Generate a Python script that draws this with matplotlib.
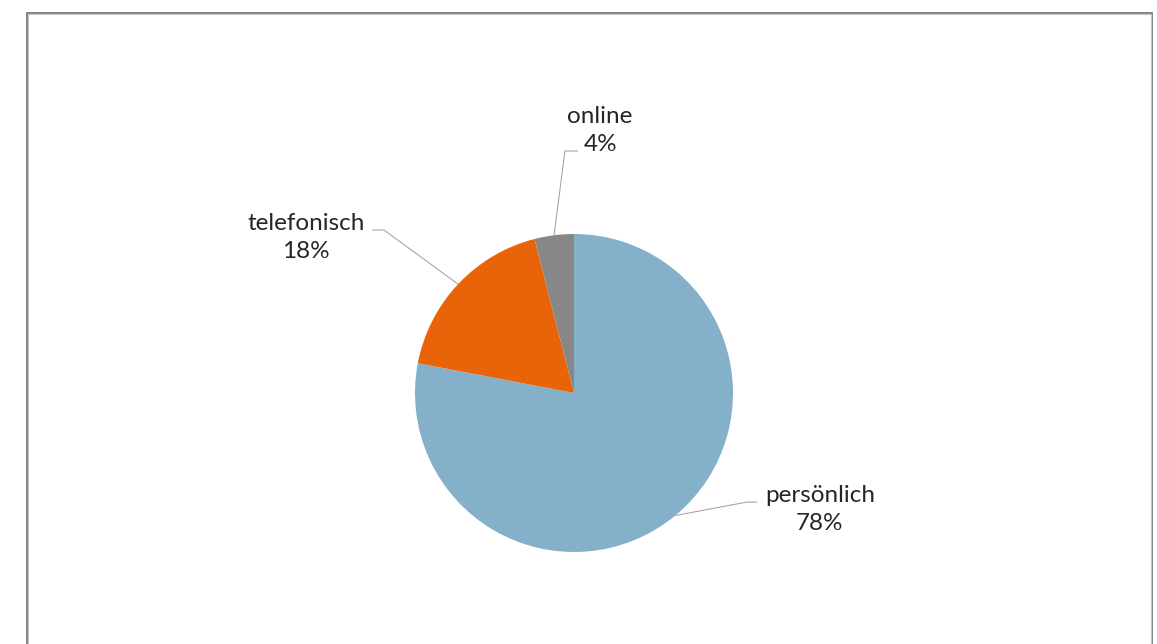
import matplotlib
matplotlib.use("Agg")
import matplotlib.pyplot as plt
from matplotlib.patches import Rectangle
import numpy as np

categories = ["persönlich", "telefonisch", "online"]
values = [78, 18, 4]
colors = ["#85B0CA", "#E96409", "#878787"]

# label positions (data units, pie radius = 1) and leader elbows
label_pos = [(1.547, -0.735), (-1.686, 0.98), (0.164, 1.652)]
elbows = [((1.088, -0.686), (1.151, -0.686)),
          ((-1.195, 1.025), (-1.270, 1.025)),
          ((-0.057, 1.522), (0.025, 1.522))]

W, H = 1157, 644
fig = plt.figure(figsize=(W / 100, H / 100), dpi=100)
fig.patch.set_facecolor("white")

cx, cy, r = 574, H - 393, 159
ax = fig.add_axes([(cx - r) / W, (cy - r) / H, 2 * r / W, 2 * r / H])
ax.axis("off")

wedges, _ = ax.pie(values, colors=colors, startangle=90, counterclock=False,
                   radius=1, center=(0, 0), frame=False)
ax.set_xlim(-1, 1)
ax.set_ylim(-1, 1)
ax.set_aspect("equal")

total = sum(values)
cum = 0
for i, (cat, v) in enumerate(zip(categories, values)):
    mid = (cum + v / 2) / total
    cum += v
    ang = np.deg2rad(90 - 360 * mid)
    px, py = np.cos(ang), np.sin(ang)
    (ex, ey), (tx, ty) = elbows[i]
    ax.plot([px, ex, tx], [py, ey, ty], color="#A6A6A6", lw=0.8,
            clip_on=False, solid_capstyle="butt")
    lx, ly = label_pos[i]
    ax.text(lx, ly, f"{cat}\n{round(100 * v / total)}%", ha="center", va="center",
            fontsize=17.5, family="Lato", fontweight="normal", color="#262626",
            linespacing=1.42, clip_on=False)

# outer border
fig.patches.append(Rectangle((27 / W, -0.05), (1152 - 27) / W, (H - 13) / H + 0.05,
                             transform=fig.transFigure, fill=False,
                             edgecolor="#7A7A7A", lw=1.3))
fig.patches.append(Rectangle((28 / W, -0.05), (1151 - 28) / W, (H - 14) / H + 0.05,
                             transform=fig.transFigure, fill=False,
                             edgecolor="#C8C8C8", lw=0.8))

fig.savefig("out.png", dpi=100, facecolor="white")
